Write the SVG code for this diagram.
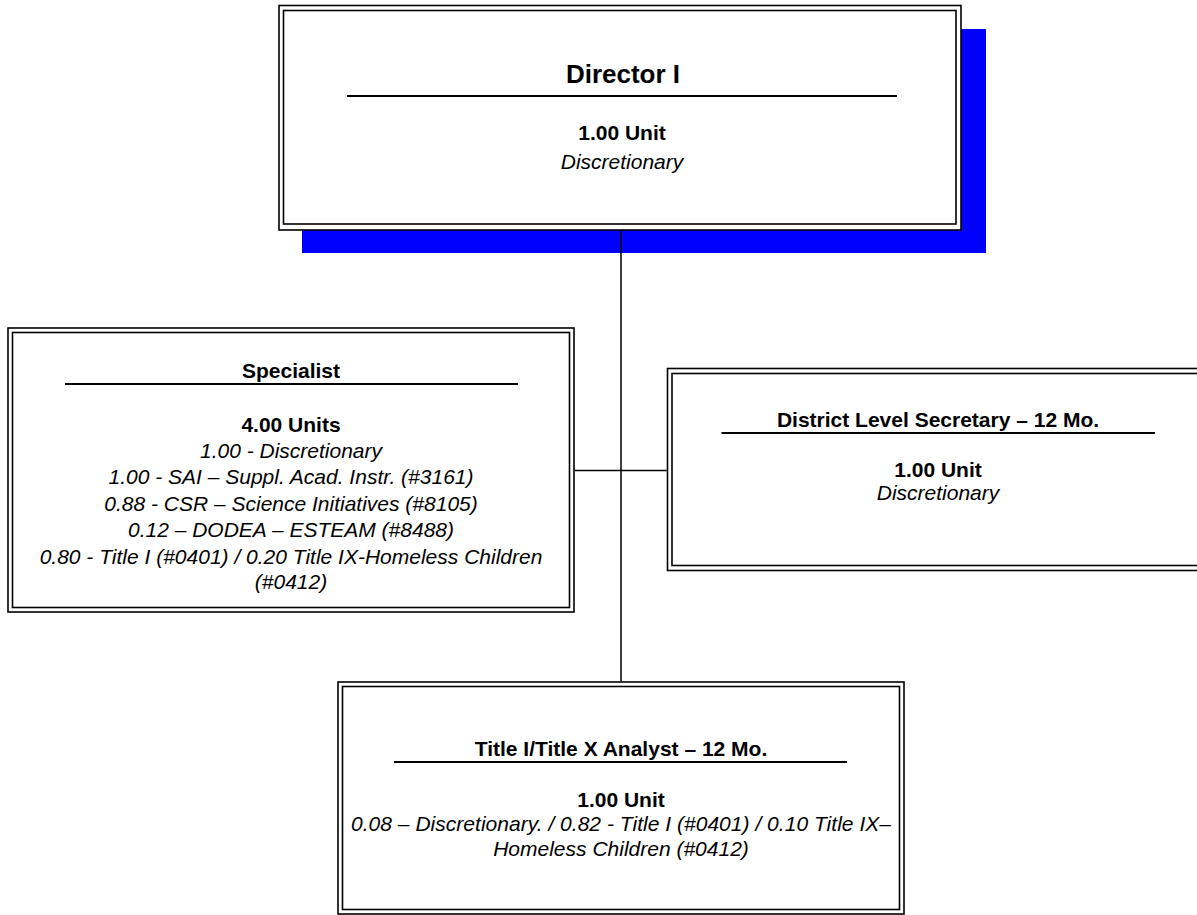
<svg xmlns="http://www.w3.org/2000/svg" width="1197" height="915" viewBox="0 0 1197 915">
  <style>
    text { font-family: "Liberation Sans", Arial, sans-serif; fill: #000; text-anchor: middle; }
    .b { font-weight: bold; font-size: 21px; }
    .h { font-weight: bold; font-size: 26px; }
    .i { font-style: italic; font-size: 21px; }
    .frame { fill: none; stroke: #000; stroke-width: 1.6; }
    .bg { fill: #fff; stroke: none; }
    .ul { stroke: #000; stroke-width: 2; }
    .conn { stroke: #000; stroke-width: 1.5; fill: none; }
  </style>
  <rect width="1197" height="915" fill="#fff"/>

  <g id="director">
    <rect x="302" y="29" width="684" height="224" fill="#0000ff"/>
    <rect class="bg" x="279" y="5.5" width="682" height="224.5"/>
    <rect class="frame" x="279" y="5.5" width="682" height="224.5"/>
    <rect class="frame" x="283.5" y="10.5" width="672.5" height="213.5"/>
    <text class="h" x="623" y="83">Director I</text>
    <line class="ul" x1="347" y1="96" x2="897" y2="96"/>
    <text class="b" x="622" y="140">1.00 Unit</text>
    <text class="i" x="622" y="169">Discretionary</text>
  </g>

  <g id="specialist">
    <rect class="bg" x="8" y="328" width="566" height="284"/>
    <rect class="frame" x="8" y="328" width="566" height="284"/>
    <rect class="frame" x="12.5" y="332.5" width="557" height="275"/>
    <text class="b" x="291" y="377.5">Specialist</text>
    <line class="ul" x1="65" y1="384" x2="518" y2="384"/>
    <text class="b" x="291" y="432">4.00 Units</text>
    <text class="i" x="291" y="458">1.00 - Discretionary</text>
    <text class="i" x="291" y="484">1.00 - SAI – Suppl. Acad. Instr. (#3161)</text>
    <text class="i" x="291" y="511">0.88 - CSR – Science Initiatives (#8105)</text>
    <text class="i" x="291" y="537">0.12 – DODEA – ESTEAM (#8488)</text>
    <text class="i" x="291" y="564">0.80 - Title I (#0401) / 0.20 Title IX-Homeless Children</text>
    <text class="i" x="291" y="589">(#0412)</text>
  </g>

  <g id="secretary">
    <rect class="bg" x="667.5" y="368.5" width="542" height="202"/>
    <rect class="frame" x="667.5" y="368.5" width="542" height="202"/>
    <rect class="frame" x="672" y="373.5" width="533" height="192"/>
    <text class="b" x="938" y="427">District Level Secretary – 12 Mo.</text>
    <line class="ul" x1="721.5" y1="433" x2="1155" y2="433"/>
    <text class="b" x="938" y="477">1.00 Unit</text>
    <text class="i" x="938" y="500">Discretionary</text>
  </g>

  <g id="analyst">
    <rect class="bg" x="338" y="682" width="566" height="232"/>
    <rect class="frame" x="338" y="682" width="566" height="232"/>
    <rect class="frame" x="342.5" y="686.5" width="557" height="223"/>
    <text class="b" x="621" y="756">Title I/Title X Analyst – 12 Mo.</text>
    <line class="ul" x1="394" y1="762" x2="847" y2="762"/>
    <text class="b" x="621" y="806.5">1.00 Unit</text>
    <text class="i" x="621" y="831" textLength="540" lengthAdjust="spacing">0.08 – Discretionary. / 0.82 - Title I (#0401) / 0.10 Title IX–</text>
    <text class="i" x="621" y="856">Homeless Children (#0412)</text>
  </g>

  <g id="connectors">
    <line class="conn" x1="621" y1="230.8" x2="621" y2="681.2"/>
    <line class="conn" x1="574.8" y1="470.5" x2="666.7" y2="470.5"/>
  </g>
</svg>
